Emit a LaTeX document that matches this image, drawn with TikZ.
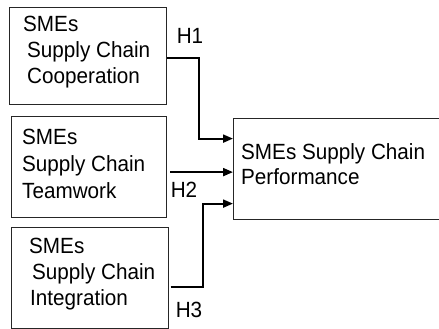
\documentclass[tikz,border=0pt]{standalone}
\usepackage{fontspec}
\setmainfont{Liberation Sans}[FakeStretch=0.94]
\usetikzlibrary{arrows.meta,calc}
\begin{document}
\begin{tikzpicture}[x=1pt,y=-1pt,
  box/.style={draw=black!85, line width=1.2pt, anchor=north west, inner sep=0pt},
  txt/.style={anchor=north west, inner sep=0pt, align=left, font=\fontsize{22}{26}\selectfont},
  link/.style={line width=2pt, -{Triangle[length=10pt,width=8pt]}},
  hyp/.style={font=\fontsize{22}{25}\selectfont, inner sep=0pt}]
\useasboundingbox (0,0) rectangle (439,329);

% constructs
\node[box, minimum width=157pt, minimum height=97pt] (coop) at (9,7) {};
\node[box, minimum width=155.5pt, minimum height=101pt] (team) at (10.5,116) {};
\node[box, minimum width=157pt, minimum height=101pt] (integ) at (10.5,227) {};
\node[box, minimum width=212pt, minimum height=101pt] (perf) at (233,118) {};

% box texts
\node[txt] (coopt) at (23,16) {SMEs\\\hspace*{4pt}Supply Chain\\\hspace*{4pt}Cooperation};
\node[txt, font=\fontsize{22}{27}\selectfont] (teamt) at (22,129) {SMEs\\Supply Chain\\Teamwork};
\node[txt] (integt) at (29,238) {SMEs\\\hspace*{3pt}Supply Chain\\\hspace*{1pt}Integration};
\node[txt, font=\fontsize{22}{25}\selectfont] (perft) at (241,143) {SMEs Supply Chain\\Performance};

% hypotheses
\coordinate (h1s) at ($(coop.east)+(0,1.5)$);
\coordinate (h1e) at ($(perf.west)+(0,-30.5)$);
\draw[link] (h1s) -- ++(32,0) |- (h1e);

\coordinate (h2s) at ($(team.east)+(3,5)$);
\draw[link] (h2s) -- (h2s -| perf.west);

\coordinate (h3s) at ($(integ.east)+(2,8.5)$);
\coordinate (h3e) at ($(perf.west)+(0,34.5)$);
\draw[link] (h3s) -- ++(32,0) |- (h3e);

\node[hyp] (h1) at (190,36) {H1};
\node[hyp] (h2) at (184,190) {H2};
\node[hyp] (h3) at (189,310) {H3};
\end{tikzpicture}
\end{document}
